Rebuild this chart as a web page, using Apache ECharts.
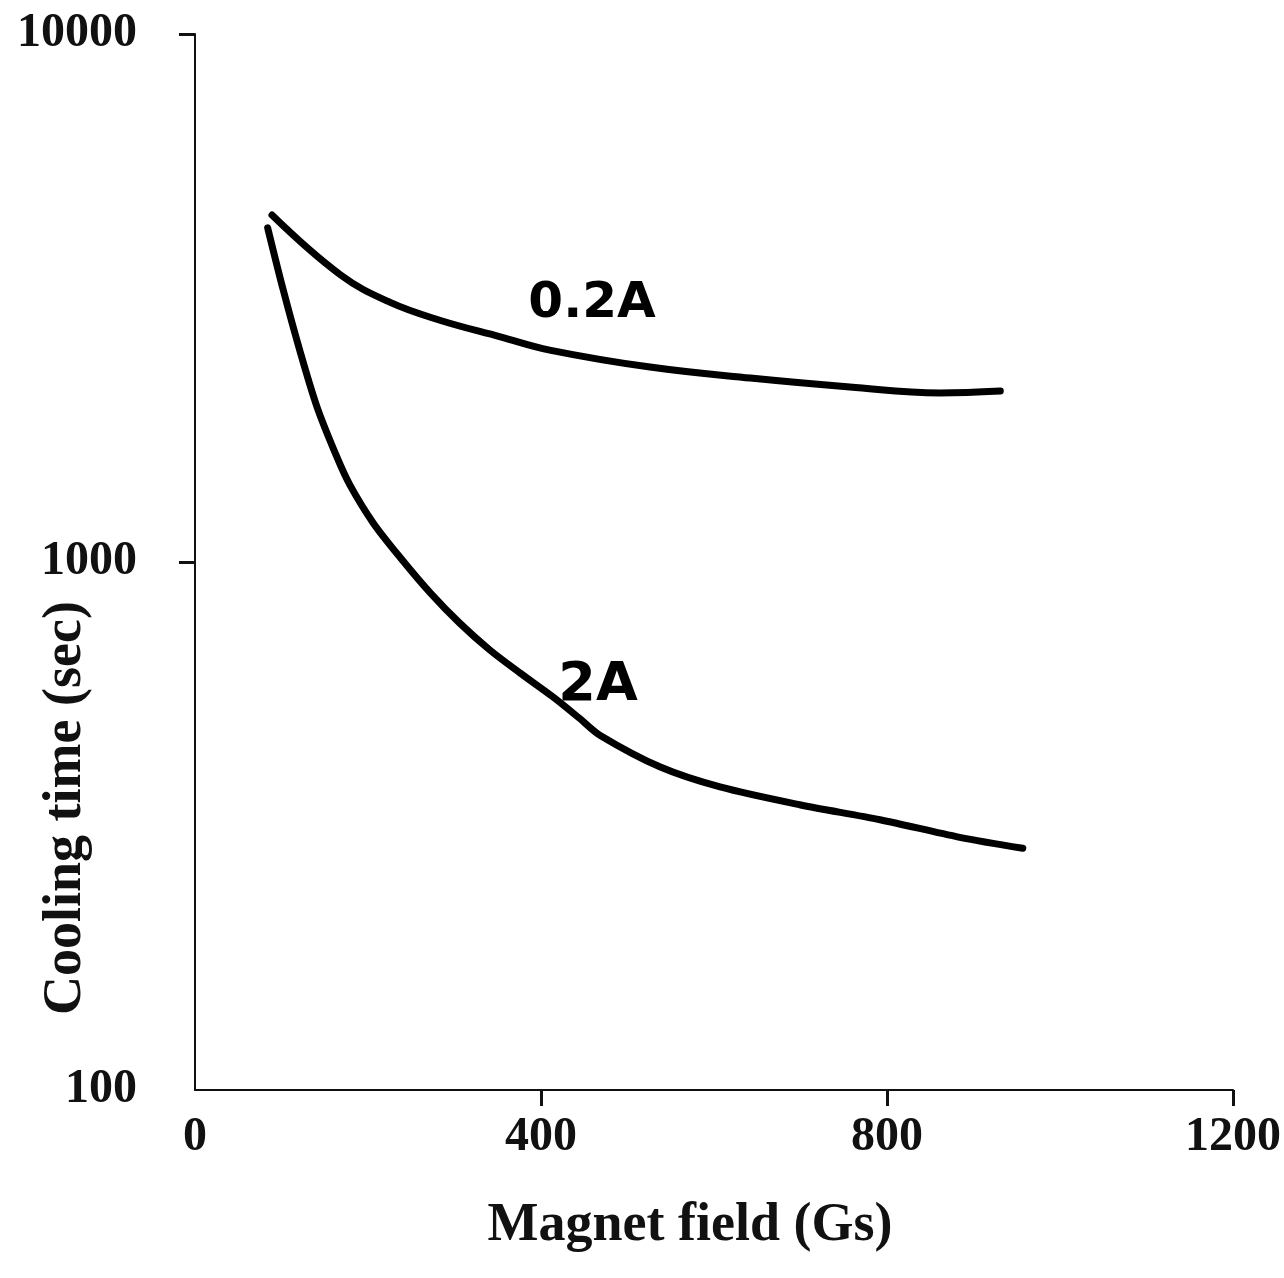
<!DOCTYPE html>
<html>
<head>
<meta charset="utf-8">
<script src="https://cdn.jsdelivr.net/npm/echarts@6/dist/echarts.min.js"></script>
<style>html,body{margin:0;padding:0;background:#fff}#c{width:1284px;height:1278px}</style>
</head>
<body>
<div id="c"></div>
<script>
// Magnet field (Gs) and cooling time (sec)
const field02A = [89, 168, 225, 283, 353, 410, 526, 642, 757, 861, 931];
const time02A  = [4540, 3500, 3105, 2870, 2670, 2520, 2340, 2230, 2145, 2090, 2108];
const field2A  = [84, 102, 121, 141, 164, 179, 206, 237, 272, 306, 341, 376, 414, 445, 468, 538, 607, 699, 792, 884, 957];
const time2A   = [4295, 3275, 2520, 1967, 1581, 1400, 1186, 1021, 874, 766, 681, 616, 555, 505, 470, 409, 375, 347, 325, 301, 287];
const xTicks = [0, 400, 800, 1200];
const yTicks = [100, 1000, 10000];
const seriesNames = ['0.2A', '2A'];

const chart = echarts.init(document.getElementById('c'));
const serif = '"Liberation Serif", "Times New Roman", serif';
const hand = '"DejaVu Sans", sans-serif';
const pair = (xs, ys) => xs.map((x, i) => [x, ys[i]]);

chart.setOption({
  backgroundColor: '#ffffff',
  animation: false,
  grid: { left: 195, right: 51, top: 34, bottom: 188, containLabel: false },
  xAxis: {
    type: 'value', min: 0, max: 1200, interval: 400,
    axisLine: { show: true, lineStyle: { color: '#111', width: 2 } },
    axisTick: { show: true, length: 16, lineStyle: { color: '#111', width: 3 }, customValues: [400, 800, 1200] },
    splitLine: { show: false },
    axisLabel: { customValues: xTicks, formatter: v => String(v), color: '#111', fontFamily: serif, fontWeight: 'bold', fontSize: 48, margin: 24 }
  },
  yAxis: {
    type: 'log', min: 100, max: 10000, logBase: 10,
    axisLine: { show: true, lineStyle: { color: '#111', width: 2 } },
    axisTick: { show: true, length: 16, lineStyle: { color: '#111', width: 3 }, customValues: [1000, 10000] },
    splitLine: { show: false },
    minorTick: { show: false },
    axisLabel: { customValues: yTicks, formatter: v => String(Math.round(v)), color: '#111', fontFamily: serif, fontWeight: 'bold', fontSize: 48, margin: 58 }
  },
  series: [
    { name: seriesNames[0], type: 'line', data: pair(field02A, time02A), smooth: 0.4, symbol: 'none',
      lineStyle: { color: '#000', width: 7, cap: 'round' } },
    { name: seriesNames[1], type: 'line', data: pair(field2A, time2A), smooth: 0.3, symbol: 'none',
      lineStyle: { color: '#000', width: 7, cap: 'round' } }
  ],
  graphic: [
    { type: 'text', rotation: Math.PI / 2, position: [66, 808], style: {
      text: 'Cooling time (sec)', fill: '#111', font: 'bold 54px ' + serif,
      align: 'center', verticalAlign: 'middle' } },
    { type: 'text', position: [690, 1226], style: {
      text: 'Magnet field (Gs)', fill: '#111', font: 'bold 54px ' + serif,
      align: 'center', verticalAlign: 'middle' } },
    { type: 'text', position: [592, 304], style: {
      text: seriesNames[0], fill: '#000', font: 'bold 50px ' + hand,
      align: 'center', verticalAlign: 'middle' } },
    { type: 'text', position: [598, 686], style: {
      text: seriesNames[1], fill: '#000', font: 'bold 54px ' + hand,
      align: 'center', verticalAlign: 'middle' } }
  ]
});
</script>
</body>
</html>
